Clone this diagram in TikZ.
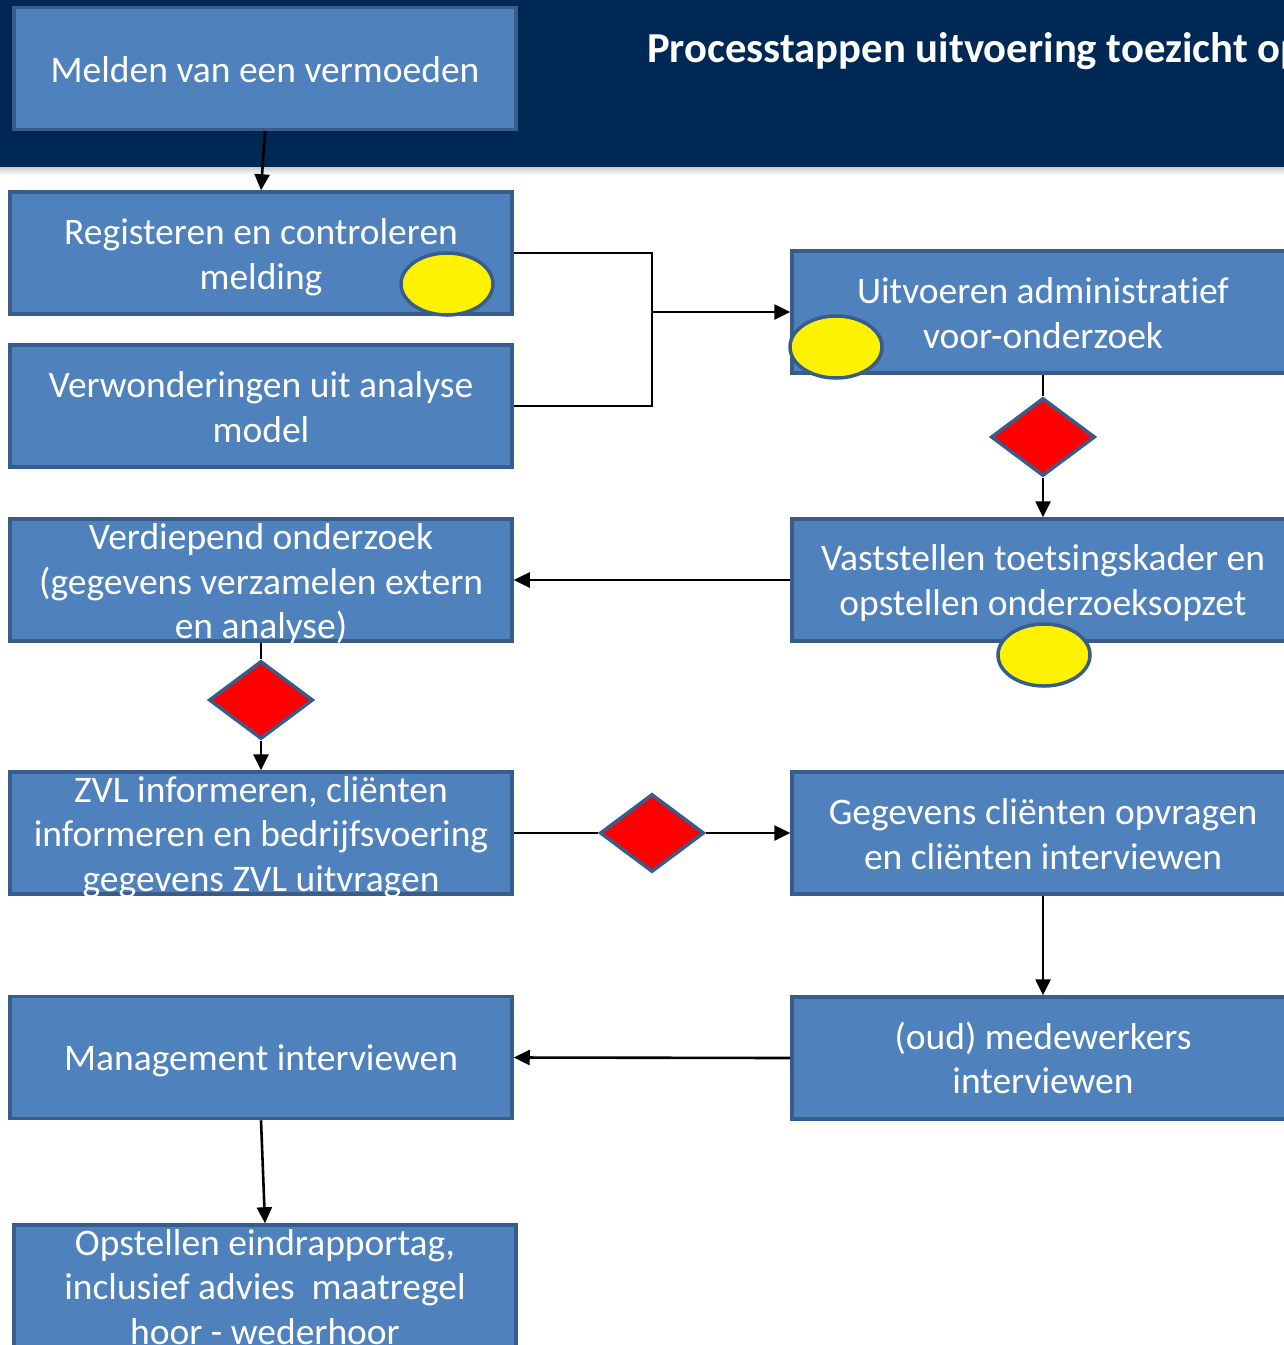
\documentclass[tikz,border=0pt]{standalone}
\usepackage{fontspec}
\setmainfont{Carlito}[Ligatures=NoCommon]
\usetikzlibrary{shapes.geometric,arrows.meta}
\definecolor{navy}{HTML}{002855}
\definecolor{boxfill}{HTML}{4F81BD}
\definecolor{boxline}{HTML}{385D8A}
\tikzset{
  procbox/.style={rectangle, fill=boxfill, draw=boxline, line width=3.5pt,
    minimum width=502pt, minimum height=122pt, inner sep=0pt},
  lbl/.style={align=center, text=white, inner sep=0pt,
    font=\fontsize{37.5}{44.5}\selectfont},
  marker/.style={ellipse, fill=yellow, draw=boxline, line width=3.5pt,
    minimum width=92pt, minimum height=62pt, inner sep=0pt},
  decision/.style={diamond, fill=red, draw=boxline, line width=3.5pt,
    minimum width=104pt, minimum height=78pt, inner sep=0pt},
  conn/.style={draw=black, line width=2.6pt},
  arr/.style={conn, -{Triangle[length=16pt,width=15pt]}}
}
\begin{document}
\begin{tikzpicture}[x=1pt,y=-1pt]
\useasboundingbox (0,0) rectangle (1284,1345);
% header
\fill[navy] (0,0) rectangle (1284,167);
\shade[top color=gray!40, bottom color=white] (0,167) rectangle (1284,175);
\node[anchor=base west, text=white, inner sep=0pt, font=\bfseries\fontsize{42.7}{50}\selectfont] (title) at (647,62) {Processtappen uitvoering toezicht op};
% boxes
\node[procbox, label={[lbl, yshift=-1pt]center:{Melden van een vermoeden}}] (melden) at (265,68.5) {};
\node[procbox, label={[lbl, yshift=-4pt]center:{Registeren en controleren\\melding}}] (reg) at (261,253) {};
\node[procbox, label={[lbl, yshift=-1pt]center:{Verwonderingen uit analyse\\model}}] (verw) at (261,406) {};
\node[procbox, label={[lbl, yshift=-1pt]center:{Uitvoeren administratief\\voor-onderzoek}}] (uitv) at (1043,312) {};
\node[procbox, label={[lbl, yshift=-3pt]center:{Vaststellen toetsingskader en\\opstellen onderzoeksopzet}}] (vast) at (1043,580) {};
\node[procbox, label={[lbl, yshift=-4pt]center:{Verdiepend onderzoek\\(gegevens verzamelen extern\\en analyse)}}] (verd) at (261,580) {};
\node[procbox, label={[lbl, yshift=-4pt]center:{ZVL informeren, cliënten\\informeren en bedrijfsvoering\\gegevens ZVL uitvragen}}] (zvl) at (261,833) {};
\node[procbox, label={[lbl, yshift=-1pt]center:{Gegevens cliënten opvragen\\en cliënten interviewen}}] (gegev) at (1043,833) {};
\node[procbox, label={[lbl]center:{(oud) medewerkers\\interviewen}}] (medew) at (1043,1058) {};
\node[procbox, label={[lbl, yshift=-3pt]center:{Management interviewen}}] (mgmt) at (261,1057.5) {};
\node[procbox, label={[lbl, yshift=-1pt]center:{Opstellen eindrapportag,\\inclusief advies\ \ maatregel\\hoor - wederhoor}}] (opst) at (265,1286) {};
% markers
\node[marker] (m1) at (447,284) {};
\node[marker] (m2) at (836,347) {};
\node[marker] (m3) at (1044,655) {};
% decisions
\node[decision] (d1) at (1043,437) {};
\node[decision] (d2) at (261,700) {};
\node[decision] (d3) at (652,833) {};
% junction
\coordinate (jtop) at (652,253);
\coordinate (jbot) at (652,406);
\coordinate (jmid) at (652,312);
% connectors
\draw[arr] (melden.south) -- (reg.north);
\draw[conn] (reg.east |- jtop) -- (jtop) -- (jbot) -- (verw.east |- jbot);
\draw[arr] (jmid) -- (uitv.west |- jmid);
\draw[conn] (uitv.south) -- (d1.north);
\draw[arr] (d1.south) -- (vast.north);
\draw[arr] (vast.west) -- (verd.east);
\draw[conn] (verd.south) -- (d2.north);
\draw[arr] (d2.south) -- (zvl.north);
\draw[conn] (zvl.east) -- (d3.west);
\draw[arr] (d3.east) -- (gegev.west);
\draw[arr] (gegev.south) -- (medew.north);
\draw[arr] (medew.west) -- (mgmt.east);
\draw[arr] (mgmt.south) -- (opst.north);
\end{tikzpicture}
\end{document}
